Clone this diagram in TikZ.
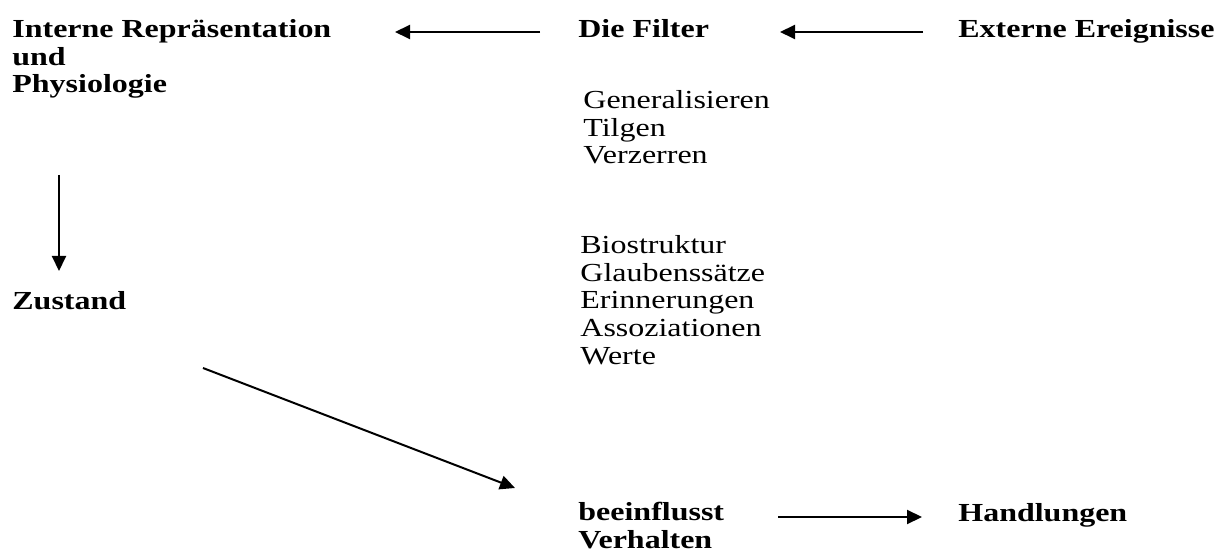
\documentclass[tikz,border=0pt]{standalone}
\usepackage{fontspec}
\setmainfont{Liberation Serif}[FakeStretch=1.23]
\usetikzlibrary{arrows.meta}

\begin{document}
\begin{tikzpicture}[x=0.5pt, y=-0.5pt,
		txt/.style={inner sep=0pt, anchor=base west, align=left, font=\fontsize{13}{13.75}\selectfont},
		hd/.style={txt, font=\fontsize{13}{13.75}\selectfont\bfseries},
		arr/.style={line width=1pt, -{Triangle[length=7.5pt, width=7pt]}}]
	\useasboundingbox (0,0) rectangle (1224,555);

	% multi-line nodes sit on the baseline of their last line
	\node[hd](intern)    at (12,93){Interne Repräsentation\\und\\Physiologie};
	\node[hd](filter)    at (578,38){Die Filter};
	\node[hd](extern)    at (958,38){Externe Ereignisse};
	\node[txt](methods)  at (583,164){Generalisieren\\Tilgen\\Verzerren};
	\node[txt](contents) at (580,364){Biostruktur\\Glaubenssätze\\Erinnerungen\\Assoziationen\\Werte};
	\node[hd](zustand)   at (12,309){Zustand};
	\node[hd](verhalten) at (578,548){beeinflusst\\Verhalten};
	\node[hd](handlung)  at (958,521){Handlungen};

	\draw[arr] ([shift={(-38,-6)}]filter.base west) -- ([shift={(383,-61)}]intern.base west);
	\draw[arr] ([shift={(-35,-6)}]extern.base west) -- ([shift={(202,-6)}]filter.base west);
	\draw[arr] ([shift={(47,82)}]intern.base west) -- ([shift={(47,-38)}]zustand.base west);
	\draw[arr] ([shift={(191,59)}]zustand.base west) -- ([shift={(-63,-60)}]verhalten.base west);
	\draw[arr] ([shift={(200,-31)}]verhalten.base west) -- ([shift={(-36,-4)}]handlung.base west);
\end{tikzpicture}
\end{document}
